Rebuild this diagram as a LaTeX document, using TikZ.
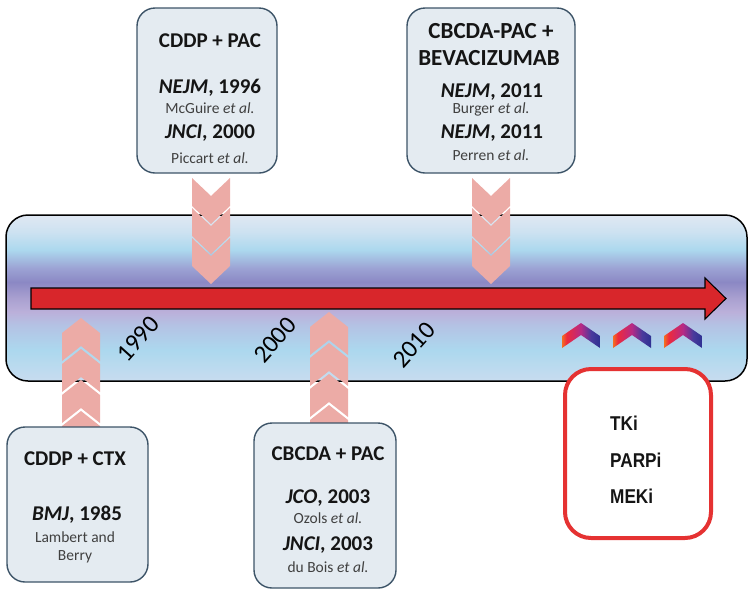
\documentclass[tikz,border=0pt]{standalone}
\usepackage{fontspec}
\setmainfont{Carlito}
\newfontfamily\arialf{Liberation Sans}
\definecolor{boxfill}{HTML}{E4EBF1}
\definecolor{boxedge}{HTML}{3D5468}
\definecolor{chevpink}{HTML}{ECABA6}
\definecolor{arrowred}{HTML}{D8262B}
\definecolor{redbox}{HTML}{E53232}
\definecolor{authgray}{HTML}{404040}
\definecolor{ttl}{HTML}{151515}
\definecolor{cA}{HTML}{C8DCEF}
\definecolor{cB}{HTML}{ACD8EE}
\definecolor{cC}{HTML}{B4C2E4}
\definecolor{cD}{HTML}{BBB0DA}
\definecolor{cE}{HTML}{A9A0D0}
\definecolor{cF}{HTML}{8B88C4}
\definecolor{cG}{HTML}{9CA3D4}
\definecolor{cH}{HTML}{ACD8EE}
\definecolor{cI}{HTML}{CDE2F1}
\definecolor{cJ}{HTML}{E0E8F3}
\definecolor{gOr}{HTML}{F36F21}
\definecolor{gRd}{HTML}{EE2A3C}
\definecolor{gMg}{HTML}{B52A86}
\definecolor{gPu}{HTML}{4A3A9C}
\definecolor{gBl}{HTML}{2E3192}
\pgfdeclareverticalshading{bandshade}{100bp}{color(0bp)=(cA); color(25bp)=(cA); color(34.3bp)=(cB); color(41.9bp)=(cC); color(45.8bp)=(cD); color(50bp)=(cE); color(54.8bp)=(cF); color(59bp)=(cG); color(64.5bp)=(cH); color(69.9bp)=(cI); color(75bp)=(cJ); color(100bp)=(cJ)}
\pgfdeclarehorizontalshading{chevshade}{100bp}{color(0bp)=(gOr); color(25bp)=(gOr); color(31bp)=(gRd); color(50bp)=(gMg); color(63bp)=(gPu); color(75bp)=(gBl); color(100bp)=(gBl)}
\begin{document}
\begin{tikzpicture}[x=1pt,y=-1pt,
  infobox/.style={draw=boxedge, fill=boxfill, line width=1.4pt, rounded corners=18pt, inner sep=0pt},
  ttlfont/.style={font=\fontsize{21}{25}\selectfont\bfseries, text=ttl, anchor=base, inner sep=0pt},
  bigttl/.style={font=\fontsize{23}{27}\selectfont\bfseries, text=ttl, anchor=base, inner sep=0pt},
  autfont/.style={font=\fontsize{15.5}{18}\selectfont, text=authgray, anchor=base, inner sep=0pt},
  yearfont/.style={font=\fontsize{25}{29}\selectfont, text=black, rotate=48, inner sep=0pt},
  drugfont/.style={font=\arialf\fontsize{20}{23}\selectfont\bfseries, text=ttl, anchor=base west, inner sep=0pt, xscale=0.86},
  upchev/.pic={\fill[chevpink] (0,0) -- (19,15) -- (19,43) -- (0,28) -- (-19,43) -- (-19,15) -- cycle;},
  downchev/.pic={\fill[chevpink] (-19,0) -- (0,18) -- (19,0) -- (19,28) -- (0,46) -- (-19,28) -- cycle;},
  gradchev/.pic={\shade[shading=chevshade] (0,0) -- (19,13) -- (19,25) -- (0,12) -- (-19,25) -- (-19,13) -- cycle;}
]
\useasboundingbox (0,0) rectangle (752,590);
% timeline band
\node[draw=black, line width=1.5pt, rounded corners=22pt, shading=bandshade, minimum width=741pt, minimum height=166pt, inner sep=0pt] (band) at (376.5,298) {};
% red arrow
\draw[fill=arrowred, draw=black, line width=1.1pt, line join=miter] (31,288) -- (705,288) -- (705,278) -- (726,298.5) -- (705,319) -- (705,309) -- (31,309) -- cycle;
% chevron columns
\foreach \t in {178,208,238} {\pic at (211,\t) {downchev}; \pic at (491,\t) {downchev};}
\foreach \t in {318,349,380,411} {\pic at (81,\t) {upchev};}
\foreach \t in {312,343,374,405} {\pic at (329,\t) {upchev};}
% gradient chevrons
\foreach \c in {581,632,683} {\pic at (\c,323) {gradchev};}
% year labels
\node[yearfont] (y1990) at (138,339) {1990};
\node[yearfont] (y2000) at (275,340) {2000};
\node[yearfont] (y2010) at (414,345) {2010};
% top box 1
\node[infobox, minimum width=140pt, minimum height=165pt] (t1) at (207,90.5) {};
\node[ttlfont] (t1a) at (210,47) {CDDP + PAC};
\node[ttlfont] (t1b) at (210,93) {\textit{NEJM}, 1996};
\node[autfont] (t1c) at (210,113) {McGuire \textit{et al.}};
\node[ttlfont] (t1d) at (210,138) {\textit{JNCI}, 2000};
\node[autfont] (t1e) at (210,163) {Piccart \textit{et al.}};
% top box 2
\node[infobox, minimum width=168pt, minimum height=165pt] (t2) at (491,90.5) {};
\node[bigttl] (t2a) at (491,38) {CBCDA-PAC +};
\node[bigttl] (t2b) at (489,65) {BEVACIZUMAB};
\node[ttlfont] (t2c) at (492,97) {\textit{NEJM}, 2011};
\node[autfont] (t2d) at (491,113) {Burger \textit{et al.}};
\node[ttlfont] (t2e) at (492,138) {\textit{NEJM}, 2011};
\node[autfont] (t2f) at (491,160) {Perren \textit{et al.}};
% bottom box 1
\node[infobox, minimum width=141pt, minimum height=155pt] (b1) at (77.5,504.5) {};
\node[ttlfont] (b1a) at (75,465) {CDDP + CTX};
\node[ttlfont] (b1b) at (77,520) {\textit{BMJ}, 1985};
\node[autfont] (b1c) at (75,542) {Lambert and};
\node[autfont] (b1d) at (75,560) {Berry};
% bottom box 2
\node[infobox, minimum width=142pt, minimum height=165pt] (b2) at (325,505.5) {};
\node[ttlfont] (b2a) at (328,460) {CBCDA + PAC};
\node[ttlfont] (b2b) at (328,503) {\textit{JCO}, 2003};
\node[autfont] (b2c) at (328,523) {Ozols \textit{et al.}};
\node[ttlfont] (b2d) at (328,550) {\textit{JNCI}, 2003};
\node[autfont] (b2e) at (328,572) {du Bois \textit{et al.}};
% red box
\node[draw=redbox, line width=4pt, rounded corners=26pt, fill=white, minimum width=146pt, minimum height=169pt, inner sep=0pt] (rbox) at (638,453.5) {};
\node[drugfont] (tki) at (610,430) {TKi};
\node[drugfont] (parpi) at (610,467) {PARPi};
\node[drugfont] (meki) at (610,503) {MEKi};
\end{tikzpicture}
\end{document}
